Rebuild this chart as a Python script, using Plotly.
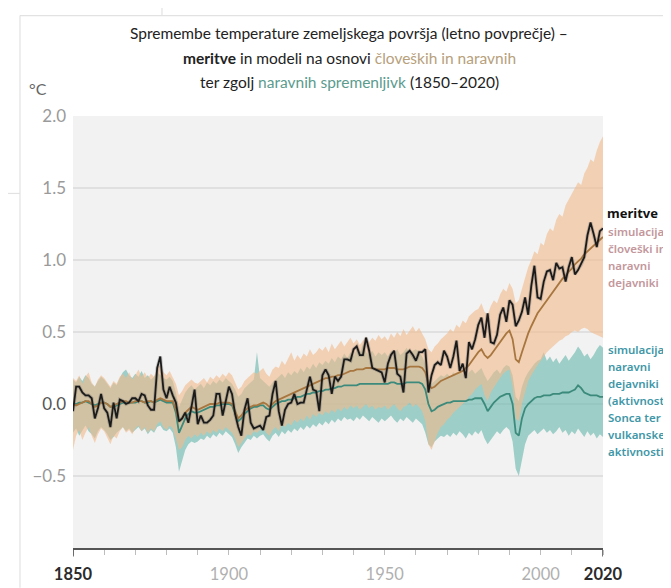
import plotly.graph_objects as go

years = list(range(1850, 2021))

observed = [
    -0.05, 0.12, 0.12, 0.08, 0.06, 0.06, 0.04, -0.10, -0.03, 0.07,
    -0.03, -0.06, -0.16, 0.01, -0.10, 0.03, 0.02, 0.00, 0.01, 0.04,
    0.04, 0.02, 0.07, 0.06, -0.01, -0.04, -0.04, 0.25, 0.33, 0.10,
    0.04, 0.12, 0.06, 0.01, -0.12, -0.10, -0.06, -0.13, -0.02, 0.10,
    -0.14, -0.08, -0.13, -0.13, -0.11, -0.08, 0.07, 0.07, -0.08, 0.02,
    0.12, 0.07, -0.07, -0.16, -0.22, -0.04, 0.04, -0.13, -0.17, -0.16,
    -0.15, -0.18, -0.09, -0.08, 0.07, 0.16, -0.05, -0.15, -0.04, 0.00,
    0.01, 0.07, 0.00, 0.01, 0.01, 0.10, 0.19, 0.10, 0.09, -0.05,
    0.20, 0.24, 0.20, 0.07, 0.19, 0.16, 0.19, 0.31, 0.31, 0.30,
    0.38, 0.40, 0.34, 0.34, 0.46, 0.37, 0.25, 0.24, 0.23, 0.22,
    0.15, 0.28, 0.34, 0.37, 0.21, 0.19, 0.08, 0.35, 0.37, 0.34,
    0.30, 0.36, 0.36, 0.38, 0.08, 0.20, 0.27, 0.29, 0.27, 0.37,
    0.33, 0.25, 0.33, 0.44, 0.23, 0.28, 0.18, 0.43, 0.38, 0.45,
    0.55, 0.60, 0.46, 0.63, 0.43, 0.42, 0.48, 0.62, 0.67, 0.57,
    0.72, 0.69, 0.54, 0.58, 0.64, 0.74, 0.62, 0.82, 0.96, 0.74,
    0.73, 0.85, 0.92, 0.93, 0.86, 0.98, 0.94, 0.95, 0.85, 0.95,
    1.02, 0.90, 0.93, 0.97, 1.02, 1.17, 1.26, 1.18, 1.09, 1.20,
    1.22,
]

hn_mean = [
    0.00, -0.01, 0.00, 0.01, 0.02, 0.02, 0.00, -0.02, -0.01, 0.01,
    0.01, 0.00, -0.02, -0.01, 0.00, 0.01, 0.02, 0.02, 0.01, 0.01,
    0.02, 0.02, 0.02, 0.01, 0.02, 0.02, 0.01, 0.03, 0.04, 0.03,
    0.02, 0.02, 0.02, -0.04, -0.12, -0.10, -0.06, -0.04, -0.02, -0.03,
    -0.04, -0.03, -0.02, -0.01, 0.00, 0.00, 0.00, 0.01, 0.01, 0.01,
    0.01, 0.00, -0.05, -0.10, -0.08, -0.05, -0.03, -0.02, -0.01, -0.01,
    0.00, 0.01, 0.00, -0.02, 0.00, 0.02, 0.03, 0.04, 0.05, 0.06,
    0.07, 0.08, 0.09, 0.10, 0.11, 0.12, 0.13, 0.14, 0.15, 0.16,
    0.17, 0.18, 0.18, 0.19, 0.19, 0.20, 0.20, 0.21, 0.22, 0.23,
    0.23, 0.24, 0.24, 0.24, 0.25, 0.25, 0.25, 0.24, 0.24, 0.24,
    0.24, 0.25, 0.25, 0.25, 0.24, 0.24, 0.24, 0.25, 0.26, 0.26,
    0.26, 0.26, 0.25, 0.22, 0.14, 0.11, 0.12, 0.14, 0.16, 0.17,
    0.18, 0.19, 0.20, 0.21, 0.22, 0.23, 0.25, 0.27, 0.30, 0.33,
    0.36, 0.38, 0.34, 0.32, 0.34, 0.37, 0.40, 0.43, 0.46, 0.49,
    0.51, 0.45, 0.31, 0.29, 0.36, 0.43, 0.49, 0.54, 0.59, 0.63,
    0.66, 0.69, 0.72, 0.75, 0.78, 0.81, 0.84, 0.87, 0.89, 0.92,
    0.94, 0.97, 0.99, 1.01, 1.04, 1.06, 1.08, 1.10, 1.12, 1.14,
    1.16,
]

hn_hi = [
    0.18, 0.16, 0.20, 0.14, 0.19, 0.22, 0.15, 0.12, 0.17, 0.20,
    0.18, 0.15, 0.12, 0.16, 0.14, 0.19, 0.21, 0.18, 0.22, 0.17,
    0.20, 0.24, 0.19, 0.22, 0.18, 0.21, 0.19, 0.25, 0.27, 0.22,
    0.20, 0.23, 0.19, 0.14, 0.06, 0.09, 0.13, 0.15, 0.17, 0.15,
    0.14, 0.16, 0.18, 0.15, 0.19, 0.17, 0.20, 0.18, 0.21, 0.19,
    0.22, 0.20, 0.15, 0.10, 0.12, 0.16, 0.18, 0.20, 0.22, 0.21,
    0.23, 0.25, 0.21, 0.19, 0.24, 0.26, 0.25, 0.30, 0.27, 0.32,
    0.36, 0.30, 0.34, 0.31, 0.35, 0.33, 0.38, 0.34, 0.36, 0.39,
    0.37, 0.40, 0.36, 0.42, 0.38, 0.41, 0.44, 0.40, 0.43, 0.46,
    0.42, 0.45, 0.41, 0.44, 0.47, 0.43, 0.46, 0.44, 0.48, 0.45,
    0.47, 0.44, 0.49, 0.46, 0.50, 0.47, 0.52, 0.48, 0.51, 0.54,
    0.50, 0.53, 0.49, 0.45, 0.38, 0.36, 0.40, 0.42, 0.45, 0.47,
    0.49, 0.52, 0.50, 0.55, 0.53, 0.58, 0.56, 0.61, 0.63, 0.65,
    0.66, 0.70, 0.64, 0.62, 0.68, 0.72, 0.70, 0.76, 0.80, 0.78,
    0.84, 0.80, 0.70, 0.72, 0.80, 0.88, 0.95, 1.00, 1.06, 1.04,
    1.12, 1.10, 1.18, 1.22, 1.20, 1.28, 1.32, 1.30, 1.38, 1.42,
    1.46, 1.50, 1.54, 1.52, 1.60, 1.64, 1.70, 1.68, 1.76, 1.82,
    1.86,
]

hn_lo = [
    -0.32, -0.22, -0.18, -0.25, -0.20, -0.16, -0.22, -0.27, -0.21, -0.17,
    -0.19, -0.23, -0.28, -0.22, -0.24, -0.19, -0.16, -0.20, -0.18, -0.21,
    -0.17, -0.15, -0.19, -0.16, -0.20, -0.17, -0.19, -0.14, -0.12, -0.16,
    -0.18, -0.15, -0.17, -0.24, -0.32, -0.30, -0.25, -0.22, -0.24, -0.21,
    -0.23, -0.20, -0.22, -0.19, -0.21, -0.18, -0.20, -0.17, -0.19, -0.16,
    -0.18, -0.20, -0.24, -0.30, -0.27, -0.24, -0.21, -0.22, -0.19, -0.20,
    -0.18, -0.17, -0.20, -0.22, -0.18, -0.16, -0.19, -0.14, -0.16, -0.13,
    -0.15, -0.11, -0.13, -0.10, -0.12, -0.08, -0.11, -0.07, -0.09, -0.06,
    -0.08, -0.05, -0.07, -0.04, -0.06, -0.03, -0.05, -0.02, -0.04, -0.01,
    -0.03, -0.01, -0.04, -0.02, 0.00, -0.03, -0.01, -0.04, -0.02, -0.03,
    -0.01, -0.04, -0.02, 0.00, -0.03, -0.05, -0.02, -0.01, 0.01, -0.02,
    0.00, -0.02, -0.05, -0.12, -0.28, -0.32, -0.26, -0.20, -0.16, -0.14,
    -0.11, -0.09, -0.06, -0.04, -0.02, 0.00, 0.02, 0.05, 0.07, 0.10,
    0.12, 0.14, 0.06, 0.02, 0.08, 0.12, 0.15, 0.18, 0.21, 0.23,
    0.24, 0.12, -0.10, -0.12, 0.00, 0.08, 0.16, 0.20, 0.24, 0.27,
    0.30, 0.33, 0.36, 0.38, 0.40, 0.42, 0.44, 0.45, 0.47, 0.48,
    0.50, 0.51, 0.50, 0.52, 0.53, 0.52, 0.50, 0.49, 0.48, 0.47,
    0.46,
]

nat_mean = [
    0.00, 0.00, 0.01, 0.01, 0.02, 0.01, 0.00, -0.01, 0.00, 0.01,
    0.01, 0.00, -0.02, -0.02, -0.01, 0.00, 0.01, 0.01, 0.01, 0.01,
    0.01, 0.02, 0.02, 0.01, 0.01, 0.02, 0.01, 0.02, 0.03, 0.02,
    0.01, 0.01, 0.01, -0.06, -0.20, -0.15, -0.10, -0.07, -0.05, -0.06,
    -0.06, -0.05, -0.04, -0.03, -0.02, -0.02, -0.01, -0.01, 0.00, 0.00,
    0.00, -0.01, -0.06, -0.12, -0.10, -0.07, -0.05, -0.03, -0.02, -0.02,
    -0.01, -0.01, -0.03, -0.04, -0.02, 0.00, 0.01, 0.02, 0.02, 0.03,
    0.03, 0.04, 0.05, 0.05, 0.06, 0.07, 0.07, 0.08, 0.08, 0.09,
    0.09, 0.10, 0.10, 0.11, 0.11, 0.12, 0.12, 0.13, 0.13, 0.13,
    0.13, 0.13, 0.14, 0.14, 0.14, 0.14, 0.14, 0.14, 0.14, 0.14,
    0.14, 0.14, 0.15, 0.15, 0.14, 0.14, 0.14, 0.15, 0.15, 0.15,
    0.15, 0.15, 0.14, 0.10, 0.00, -0.05, -0.04, -0.02, -0.01, 0.00,
    0.01, 0.01, 0.02, 0.02, 0.02, 0.02, 0.02, 0.03, 0.03, 0.04,
    0.04, 0.04, 0.00, -0.05, -0.02, 0.01, 0.03, 0.05, 0.06, 0.07,
    0.07, 0.00, -0.20, -0.22, -0.10, -0.03, 0.00, 0.02, 0.04, 0.05,
    0.05, 0.06, 0.06, 0.06, 0.07, 0.07, 0.07, 0.08, 0.08, 0.08,
    0.09, 0.10, 0.13, 0.11, 0.08, 0.07, 0.06, 0.06, 0.06, 0.05,
    0.05,
]

nat_hi = [
    0.17, 0.15, 0.19, 0.16, 0.20, 0.18, 0.14, 0.12, 0.16, 0.19,
    0.17, 0.14, 0.11, 0.15, 0.13, 0.18, 0.22, 0.24, 0.20, 0.18,
    0.21, 0.19, 0.23, 0.18, 0.20, 0.17, 0.19, 0.22, 0.20, 0.18,
    0.17, 0.19, 0.16, 0.08, -0.02, 0.03, 0.08, 0.11, 0.13, 0.10,
    0.12, 0.14, 0.11, 0.15, 0.13, 0.16, 0.14, 0.17, 0.15, 0.18,
    0.16, 0.14, 0.10, 0.05, 0.07, 0.11, 0.13, 0.15, 0.17, 0.36,
    0.18, 0.16, 0.14, 0.12, 0.15, 0.17, 0.19, 0.21, 0.18, 0.22,
    0.20, 0.23, 0.21, 0.25, 0.22, 0.26, 0.24, 0.28, 0.25, 0.29,
    0.27, 0.30, 0.28, 0.32, 0.29, 0.33, 0.31, 0.35, 0.32, 0.36,
    0.33, 0.38, 0.35, 0.42, 0.36, 0.34, 0.37, 0.33, 0.36, 0.34,
    0.36, 0.33, 0.37, 0.35, 0.38, 0.34, 0.36, 0.39, 0.35, 0.37,
    0.38, 0.36, 0.33, 0.28, 0.18, 0.14, 0.16, 0.18, 0.20, 0.19,
    0.21, 0.19, 0.22, 0.20, 0.23, 0.21, 0.19, 0.22, 0.24, 0.21,
    0.23, 0.25, 0.20, 0.16, 0.19, 0.22, 0.24, 0.21, 0.25, 0.27,
    0.26, 0.20, 0.05, 0.02, 0.12, 0.18, 0.22, 0.25, 0.28, 0.30,
    0.31, 0.36, 0.30, 0.33, 0.29, 0.32, 0.28, 0.31, 0.34, 0.30,
    0.33, 0.36, 0.40, 0.37, 0.33, 0.35, 0.31, 0.34, 0.38, 0.41,
    0.39,
]

nat_lo = [
    -0.20, -0.17, -0.22, -0.18, -0.15, -0.19, -0.21, -0.24, -0.19, -0.16,
    -0.18, -0.21, -0.25, -0.23, -0.20, -0.18, -0.16, -0.19, -0.17, -0.20,
    -0.18, -0.16, -0.19, -0.17, -0.21, -0.18, -0.20, -0.16, -0.15, -0.18,
    -0.19, -0.17, -0.20, -0.30, -0.47, -0.40, -0.32, -0.28, -0.26, -0.27,
    -0.26, -0.24, -0.25, -0.22, -0.24, -0.21, -0.23, -0.20, -0.22, -0.19,
    -0.21, -0.23, -0.28, -0.34, -0.30, -0.27, -0.24, -0.25, -0.22, -0.24,
    -0.22, -0.21, -0.24, -0.26, -0.22, -0.20, -0.23, -0.19, -0.21, -0.18,
    -0.20, -0.17, -0.19, -0.16, -0.18, -0.15, -0.17, -0.14, -0.16, -0.13,
    -0.15, -0.12, -0.14, -0.11, -0.13, -0.10, -0.12, -0.09, -0.11, -0.10,
    -0.12, -0.09, -0.11, -0.08, -0.10, -0.12, -0.09, -0.11, -0.13, -0.10,
    -0.12, -0.10, -0.08, -0.11, -0.13, -0.10, -0.12, -0.09, -0.11, -0.13,
    -0.10, -0.12, -0.14, -0.20, -0.28, -0.30, -0.26, -0.24, -0.22, -0.23,
    -0.21, -0.23, -0.20, -0.22, -0.19, -0.21, -0.24, -0.20, -0.22, -0.19,
    -0.21, -0.18, -0.24, -0.28, -0.25, -0.22, -0.19, -0.21, -0.18, -0.16,
    -0.18, -0.26, -0.45, -0.50, -0.38, -0.28, -0.22, -0.20, -0.18, -0.21,
    -0.19, -0.17, -0.20, -0.18, -0.21, -0.19, -0.16, -0.20, -0.18, -0.22,
    -0.19, -0.21, -0.17, -0.20, -0.23, -0.19, -0.22, -0.20, -0.24, -0.21,
    -0.23,
]

y_tickvals = [-0.5, 0.0, 0.5, 1.0, 1.5, 2.0]
y_ticktext = ["−0.5", "<span style='color:#555'>0.0</span>", "0.5", "1.0", "1.5", "2.0"]
x_tickvals = [1850, 1900, 1950, 2000, 2020]
x_ticktext = ["<b style='color:#2b2b2b'>1850</b>", "1900", "1950", "2000",
              "<b style='color:#2b2b2b'>2020</b>"]

label_hn = ["simulacija", "človeški in", "naravni", "dejavniki"]
label_nat = ["simulacija", "naravni", "dejavniki", "(aktivnost", "Sonca ter",
             "vulkanske", "aktivnosti)"]

PEACH = "rgba(242,188,142,0.62)"
TEAL = "rgba(105,184,172,0.62)"

fig = go.Figure()
fig.add_trace(go.Scatter(x=years, y=nat_lo, mode="lines", line=dict(width=0),
                         showlegend=False, hoverinfo="skip"))
fig.add_trace(go.Scatter(x=years, y=nat_hi, mode="lines", line=dict(width=0),
                         fill="tonexty", fillcolor=TEAL, showlegend=False, hoverinfo="skip"))
fig.add_trace(go.Scatter(x=years, y=hn_lo, mode="lines", line=dict(width=0),
                         showlegend=False, hoverinfo="skip"))
fig.add_trace(go.Scatter(x=years, y=hn_hi, mode="lines", line=dict(width=0),
                         fill="tonexty", fillcolor=PEACH, showlegend=False, hoverinfo="skip"))
fig.add_trace(go.Scatter(x=years, y=nat_mean, mode="lines",
                         line=dict(color="#3b8a7b", width=1.8), showlegend=False))
fig.add_trace(go.Scatter(x=years, y=hn_mean, mode="lines",
                         line=dict(color="#a8763f", width=1.8), showlegend=False))
fig.add_trace(go.Scatter(x=years, y=observed, mode="lines",
                         line=dict(color="rgba(90,90,90,0.3)", width=3.6), showlegend=False))
fig.add_trace(go.Scatter(x=years, y=observed, mode="lines",
                         line=dict(color="#1a1a1a", width=1.8), showlegend=False))

# Geometry: the page keeps its 8px body margin; the captured picture is
# vertically scaled by about 588/604, so target picture rows are converted back.
OFF = 8
S = 588 / 604
W, H = 671 - OFF, 588
SL, SR = 73, 603                                  # plot-area left/right in the picture
page_top, page_bot = 116 / S - 3, 554 / S + 5     # plot-area top/bottom in page pixels
pw = SR - SL
ph = page_bot - page_top
L = SL - OFF
R = W - L - pw
T = page_top - OFF
B = H - (page_bot - OFF)


def px(x):
    return (x - SL) / pw


def py(y):
    return (page_bot - y / S) / ph


frame = "#e2e2e2"
shapes = [
    dict(type="line", xref="paper", yref="paper", x0=px(20), x1=px(680), y0=py(9.5), y1=py(9.5),
         line=dict(color=frame, width=1.2), layer="below"),
    dict(type="line", xref="paper", yref="paper", x0=px(20), x1=px(20), y0=py(9.5), y1=py(600),
         line=dict(color=frame, width=1.2), layer="below"),
    dict(type="line", xref="paper", yref="paper", x0=px(162), x1=px(162), y0=py(0), y1=py(9.5),
         line=dict(color=frame, width=1.2), layer="below"),
    dict(type="line", xref="paper", yref="paper", x0=px(0), x1=px(20), y0=py(193), y1=py(193),
         line=dict(color=frame, width=1.2), layer="below"),
    dict(type="line", xref="x", yref="paper", x0=1850, x1=1850, y0=0, y1=-9 / ph,
         line=dict(color="#555", width=1.6)),
    dict(type="line", xref="x", yref="paper", x0=2020, x1=2020, y0=0, y1=-9 / ph,
         line=dict(color="#555", width=1.6)),
]

title_font = dict(family="Lato", size=15.5, color="#222")
annotations = [
    dict(xref="paper", yref="paper", x=px(349), y=py(27), xanchor="center", yanchor="middle",
         text="Spremembe temperature zemeljskega površja (letno povprečje) –",
         showarrow=False, font=title_font),
    dict(xref="paper", yref="paper", x=px(349), y=py(53), xanchor="center", yanchor="middle",
         text="<b>meritve</b> in modeli na osnovi <span style='color:#b7a07c'>človeških in naravnih</span>",
         showarrow=False, font=title_font),
    dict(xref="paper", yref="paper", x=px(349), y=py(78), xanchor="center", yanchor="middle",
         text="ter zgolj <span style='color:#5b9b8e'>naravnih spremenljivk</span> (1850–2020)",
         showarrow=False, font=title_font),
    dict(xref="paper", yref="paper", x=px(27), y=py(85), xanchor="left", yanchor="middle",
         text="°C", showarrow=False, font=dict(family="Lato", size=16, color="#666")),
    dict(xref="paper", yref="paper", x=px(605), y=py(213), xanchor="left", yanchor="middle",
         text="<b>meritve</b>", showarrow=False,
         font=dict(family="Noto Sans", size=13, color="#111")),
]
for i, t in enumerate(label_hn):
    annotations.append(dict(xref="paper", yref="paper", x=px(606), y=py(232 + 17.6 * i),
                            xanchor="left", yanchor="middle", text=t, showarrow=False,
                            font=dict(family="Noto Sans", size=11.5, color="#c3979c", weight=600)))
for i, t in enumerate(label_nat):
    annotations.append(dict(xref="paper", yref="paper", x=px(606), y=py(354 + 17.6 * i),
                            xanchor="left", yanchor="middle", text=t, showarrow=False,
                            font=dict(family="Noto Sans", size=11.5, color="#3f97a8", weight=600)))

fig.update_layout(
    width=W, height=H,
    margin=dict(l=L, r=R, t=T, b=B, pad=0),
    paper_bgcolor="white",
    plot_bgcolor="#f2f2f2",
    showlegend=False,
    shapes=shapes,
    annotations=annotations,
    xaxis=dict(
        range=[1850, 2020], tickvals=x_tickvals, ticktext=x_ticktext,
        showgrid=False, zeroline=False, showline=True, linecolor="#555", linewidth=1.6,
        ticks="outside", ticklen=5, tickcolor="#bdbdbd", tickwidth=1.2,
        minor=dict(dtick=10, tick0=1850, ticks="outside", ticklen=5, tickcolor="#bdbdbd",
                   tickwidth=1.2, showgrid=False),
        tickfont=dict(family="Lato", size=16.5, color="#b0b0b0"),
        ticklabelstandoff=5,
    ),
    yaxis=dict(
        range=[-1.0, 2.0], tickvals=y_tickvals, ticktext=y_ticktext,
        showgrid=True, gridcolor="#e0e0e0", gridwidth=1.5, zeroline=False, showline=False,
        ticks="", tickfont=dict(family="Lato", size=17, color="#9a9a9a"),
        ticklabelstandoff=6,
    ),
)

fig.write_html("out.html", config={"displayModeBar": False})
